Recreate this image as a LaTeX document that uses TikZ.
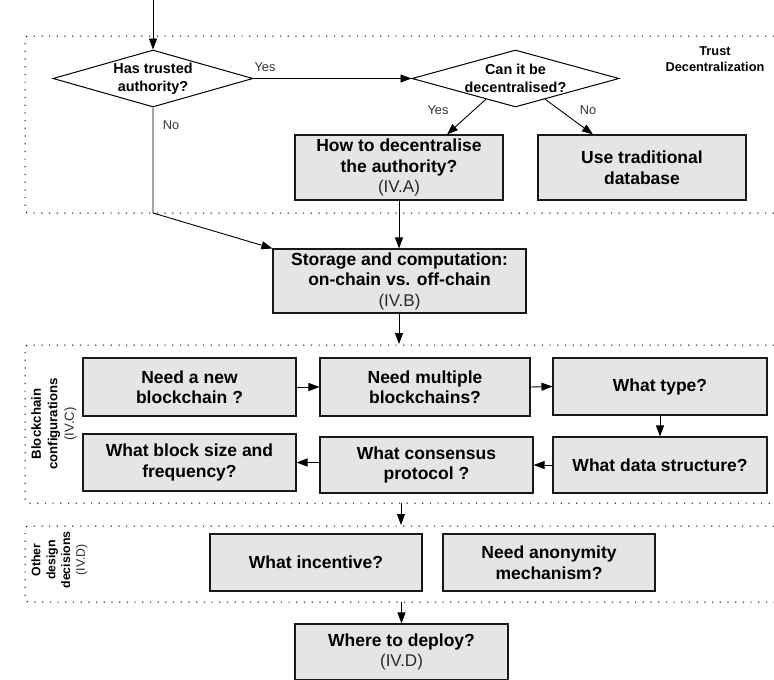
\documentclass[tikz,border=0pt]{standalone}
\usepackage{fontspec}
\setmainfont{Liberation Sans}
\definecolor{boxgray}{HTML}{E5E5E5}
\definecolor{lblgray}{HTML}{333333}
\definecolor{ivgray}{HTML}{2A2A2A}
\newcommand\ivfont{\mdseries\fontsize{17}{22}\selectfont\color{ivgray}}
\usetikzlibrary{arrows.meta,shapes.geometric,calc}
\begin{document}
\begin{tikzpicture}[x=1pt,y=-1pt,
  box/.style={draw=black!90, line width=1.1pt, fill=boxgray, align=center,
    font=\bfseries\fontsize{17.5}{20.5}\selectfont, inner sep=0pt},
  dia/.style={diamond, draw=black, line width=1pt, fill=white, inner sep=0pt},
  diatext/.style={align=center, font=\bfseries\fontsize{14.4}{18}\selectfont},
  yn/.style={font=\fontsize{12.8}{14}\selectfont, text=lblgray},
  arr/.style={-{Triangle[length=11pt,width=8pt]}, line width=0.9pt},
  region/.style={dash pattern=on 1.2pt off 6.5pt, line width=1pt, rounded corners=3pt},
  side/.style={rotate=90, align=center}
]
\useasboundingbox (0,0) rectangle (774,680);

% regions
\draw[region] (774,36) -- (25,36) -- (25,213) -- (774,213);
\draw[region] (774,345) -- (25,345) -- (25,503) -- (774,503);
\draw[region] (774,526) -- (25,526) -- (25,602) -- (774,602);

\node[align=center, font=\bfseries\fontsize{12.8}{16}\selectfont] (trustlbl) at (715,59) {Trust\\Decentralization};
\node[side, font=\bfseries\fontsize{13.2}{16.5}\selectfont] (bclbl) at (54,424) {Blockchain\\configurations\\{\mdseries\color{ivgray}(IV.C)}};
\node[side, font=\bfseries\fontsize{12.3}{14.8}\selectfont] (odlbl) at (59.5,560) {Other\\design\\decisions\\{\mdseries\color{ivgray}(IV.D)}};

% diamonds
\node[dia, minimum width=200pt, minimum height=57pt] (d1) at (153,78.5) {};
\node[diatext] (d1t) at (d1) {Has trusted\\authority?};
\node[dia, minimum width=207pt, minimum height=57pt] (d2) at (515.5,78.5) {};
\node[diatext] (d2t) at (d2) {Can it be\\decentralised?};

% boxes
\node[box, minimum width=208pt, minimum height=65pt] (auth) at (399,167.5) {How to decentralise\\the authority?\\{\ivfont (IV.A)}};
\node[box, minimum width=208pt, minimum height=65pt] (trad) at (642,167.5) {Use traditional\\database};
\node[box, minimum width=253pt, minimum height=64pt] (stor) at (399.5,281) {Storage and computation:\\on-chain vs. off-chain\\{\ivfont (IV.B)}};

\node[box, minimum width=213pt, minimum height=58pt] (newbc) at (189.5,387) {Need a new\\blockchain ?};
\node[box, minimum width=210pt, minimum height=58pt] (multi) at (425,387) {Need multiple\\blockchains?};
\node[box, minimum width=214pt, minimum height=57pt] (type) at (660,386.5) {What type?};
\node[box, minimum width=213pt, minimum height=57pt] (bsize) at (189.5,462.5) {What block size and\\frequency?};
\node[box, minimum width=213pt, minimum height=56pt] (cons) at (426.5,465) {What consensus\\protocol ?};
\node[box, minimum width=214pt, minimum height=56pt] (dstruct) at (660,465) {What data structure?};

\node[box, minimum width=212pt, minimum height=57pt] (incent) at (316,562.5) {What incentive?};
\node[box, minimum width=212pt, minimum height=57pt] (anon) at (549,562.5) {Need anonymity\\mechanism?};
\node[box, minimum width=213pt, minimum height=56pt] (deploy) at (401.5,652) {Where to deploy?\\{\ivfont (IV.D)}};

% coordinates
\coordinate (start) at (153,0);
\coordinate (bend) at (153,213);
\coordinate (r2top) at (399,344);
\coordinate (r2bot) at (401,503);
\coordinate (r3top) at (401,525);
\coordinate (r3bot) at (401.5,602);

% connectors
\draw[arr] (start) -- (d1.north);
\draw[arr] (d1.east) -- (d2.west);
\draw[arr] (d1.south) -- (bend) -- (stor.north west);
\draw[arr] (d2.-145) -- ($(auth.north)+(48,0)$);
\draw[arr] (d2.-35) -- ($(trad.north)+(-49,0)$);
\draw[arr] (auth.south) -- (auth.south |- stor.north);
\draw[arr] (stor.south -| r2top) -- (r2top);
\draw[arr] (newbc.east) -- (multi.west);
\draw[arr] (multi.east) -- (type.west);
\draw[arr] (type.south) -- (dstruct.north);
\draw[arr] (dstruct.west) -- (cons.east);
\draw[arr] (cons.west |- bsize.east) -- (bsize.east);
\draw[arr] (r2bot) -- (r3top);
\draw[arr] (r3bot) -- (deploy.north);

% labels
\node[yn] (yes1) at (265,67) {Yes};
\node[yn] (no1) at (171,125) {No};
\node[yn] (yes2) at (438,110) {Yes};
\node[yn] (no2) at (588,110) {No};
\end{tikzpicture}
\end{document}
